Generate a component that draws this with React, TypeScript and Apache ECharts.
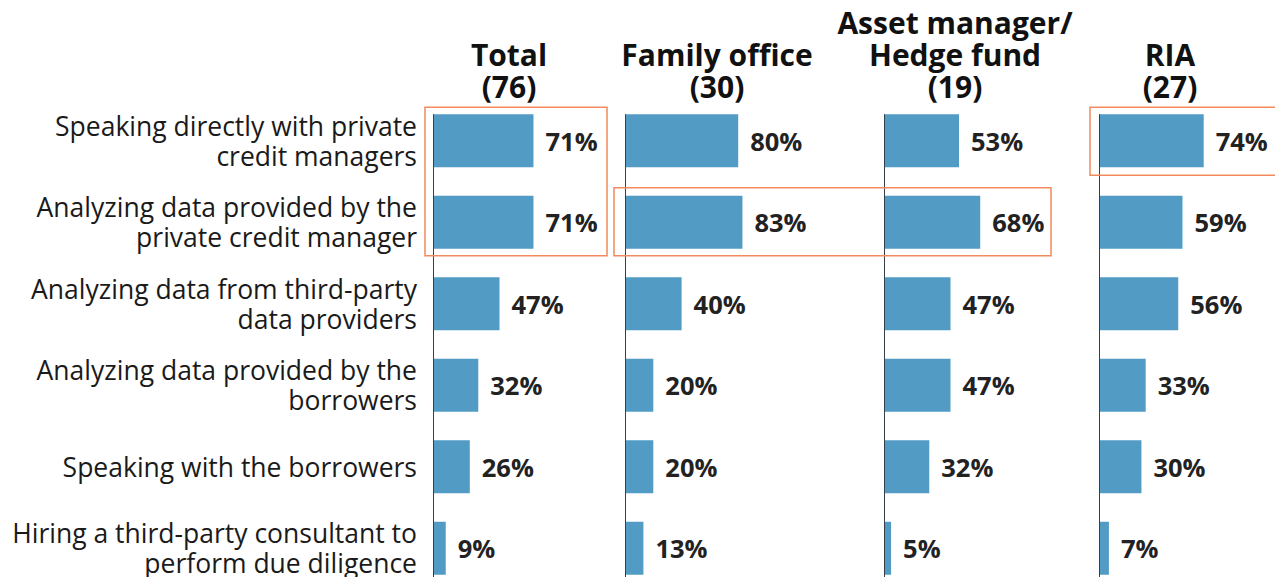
import React, { useEffect, useRef } from "react";
import * as echarts from "echarts";

const categories = [
  "Speaking directly with private\ncredit managers",
  "Analyzing data provided by the\nprivate credit manager",
  "Analyzing data from third-party\ndata providers",
  "Analyzing data provided by the\nborrowers",
  "Speaking with the borrowers",
  "Hiring a third-party consultant to\nperform due diligence",
];

const panelTitles = [
  ["Total", "(76)"],
  ["Family office", "(30)"],
  ["Asset manager/", "Hedge fund", "(19)"],
  ["RIA", "(27)"],
];
const totalValues = [71, 71, 47, 32, 26, 9];
const familyOfficeValues = [80, 83, 40, 20, 20, 13];
const assetManagerValues = [53, 68, 47, 47, 32, 5];
const riaValues = [74, 59, 56, 33, 30, 7];

const panelValues = [totalValues, familyOfficeValues, assetManagerValues, riaValues];

const gridLefts = [433, 625, 884, 1099];
const titleCenters = [509, 717, 955, 1170];
const BAR_W = 53;
const BAR_COLOR = "#519bc4";
const BOX_COLOR = "#f28a5e";
const AXIS_COLOR = "#34404a";

export default function App() {
  const ref = useRef<HTMLDivElement>(null);

  useEffect(() => {
    document.body.style.margin = "0";
    if (!ref.current) return;
    const chart = echarts.init(ref.current, null, { renderer: "svg" });

    const grids = gridLefts.map((left) => ({
      left,
      top: 100,
      width: 141.5,
      height: 489,
      outerBoundsMode: "none",
      containLabel: false,
    }));
    const xAxes = gridLefts.map((_, i) => ({
      type: "value",
      gridIndex: i,
      min: 0,
      max: 100,
      show: false,
    }));
    const yAxes = gridLefts.map((_, i) => ({
      type: "category",
      gridIndex: i,
      data: categories,
      inverse: true,
      axisLine: { show: false },
      axisTick: { show: false },
      splitLine: { show: false },
      axisLabel: {
        show: i === 0,
        margin: 16,
        align: "right",
        fontFamily: "Open Sans",
        fontSize: 26.5,
        lineHeight: 30,
        color: "#1a1a1a",
      },
    }));

    const barSeries = panelValues.map((vals, i) => ({
      type: "bar",
      xAxisIndex: i,
      yAxisIndex: i,
      data: vals,
      barWidth: BAR_W,
      itemStyle: { color: BAR_COLOR },
      label: {
        show: true,
        position: "right",
        distance: 12,
        formatter: "{c}%",
        fontFamily: "Open Sans",
        fontWeight: "bold",
        fontSize: 25.5,
        color: "#222222",
      },
      z: 2,
    }));

    const lineSeries = panelValues.map((_, i) => ({
      type: "custom",
      xAxisIndex: i,
      yAxisIndex: i,
      data: [[0, 0]],
      clip: false,
      z: 3,
      silent: true,
      renderItem: (params: any, api: any) => {
        const p = api.coord([0, 0]);
        const cs = params.coordSys;
        return {
          type: "line",
          shape: { x1: p[0] + 0.5, y1: p[1] - BAR_W / 2, x2: p[0] + 0.5, y2: cs.y + cs.height },
          style: { stroke: AXIS_COLOR, lineWidth: 1 },
        };
      },
    }));

    const titles: any[] = [];
    panelTitles.forEach((lines, i) => {
      const n = lines.length;
      lines.forEach((t, j) => {
        titles.push({
          type: "text",
          x: titleCenters[i],
          y: 86 - (n - 1 - j) * 32,
          style: {
            text: t,
            align: "center",
            verticalAlign: "middle",
            fontFamily: "Open Sans",
            fontWeight: "bold",
            fontSize: 30,
            fill: "#111111",
          },
        });
      });
    });

    chart.setOption({
      animation: false,
      grid: grids,
      xAxis: xAxes,
      yAxis: yAxes,
      series: [...barSeries, ...lineSeries],
      graphic: titles,
    });

    const px = (gi: number, row: number) =>
      chart.convertToPixel({ xAxisIndex: gi, yAxisIndex: gi }, [0, row]) as number[];
    const r0 = px(0, 0);
    const r1 = px(0, 1);
    const fam = px(1, 1);
    const am = px(2, 1);
    const riaP = px(3, 0);
    const boxes = [
      { x: r0[0] - 8, y: r0[1] - 33.5, w: 182, h: r1[1] - r0[1] + 67 },
      { x: fam[0] - 11, y: fam[1] - 34.5, w: am[0] + 167 - (fam[0] - 11), h: 68 },
      { x: riaP[0] - 9, y: riaP[1] - 33.5, w: 200, h: 68 },
    ].map((b) => ({
      type: "rect",
      shape: { x: b.x, y: b.y, width: b.w, height: b.h },
      style: { fill: "none", stroke: BOX_COLOR, lineWidth: 1.5 },
      z: 10,
    }));

    chart.setOption({ graphic: [...titles, ...boxes] });

    return () => chart.dispose();
  }, []);

  return <div ref={ref} style={{ width: 1275, height: 577 }} />;
}
